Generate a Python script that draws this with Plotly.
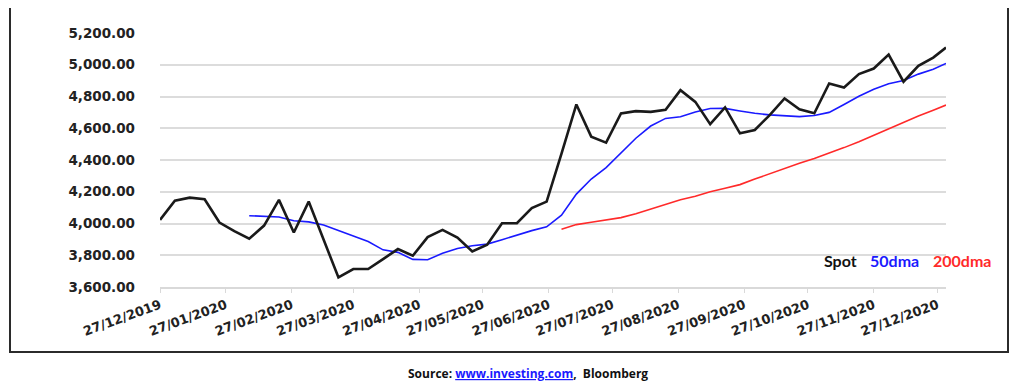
import pandas as pd
import plotly.graph_objects as go

# Weekly dates (Friday closes) plus the last trading day of 2020
dates = list(pd.date_range("2019-12-27", "2020-12-25", freq="7D").strftime("%Y-%m-%d")) + ["2020-12-31"]

spot = [4023, 4144, 4163, 4153, 4006, 3952, 3904, 3987, 4149, 3943,
        4138, 3900, 3660, 3713, 3713, 3776, 3839, 3797, 3914, 3960,
        3912, 3824, 3866, 4002, 4002, 4097, 4138, 4440, 4750, 4547,
        4509, 4693, 4708, 4703, 4716, 4840, 4766, 4626, 4731, 4568,
        4589, 4683, 4788, 4719, 4694, 4882, 4857, 4941, 4976, 5064,
        4893, 4993, 5045, 5108]

dma50 = [None] * 6 + [4049, 4046, 4041, 4017, 4010, 3990, 3955, 3925, 3886, 3834,
                      3818, 3774, 3772, 3812, 3843, 3860, 3870, 3898, 3927, 3955,
                      3979, 4052, 4185, 4280, 4352, 4443, 4537, 4614, 4662, 4672,
                      4703, 4724, 4725, 4709, 4694, 4684, 4678, 4673, 4680, 4700,
                      4750, 4802, 4846, 4880, 4901, 4941, 4971, 5008]

dma200 = [None] * 27 + [3964, 3993, 4008, 4021, 4037, 4062, 4090, 4120, 4150, 4172,
                        4200, 4222, 4245, 4280, 4314, 4345, 4380, 4410, 4443, 4478,
                        4515, 4556, 4596, 4635, 4677, 4714, 4746]

tick_dates = ["2019-12-27", "2020-01-27", "2020-02-27", "2020-03-27", "2020-04-27",
              "2020-05-27", "2020-06-27", "2020-07-27", "2020-08-27", "2020-09-27",
              "2020-10-27", "2020-11-27", "2020-12-27"]
tick_text = ["27/12/2019", "27/01/2020", "27/02/2020", "27/03/2020", "27/04/2020",
             "27/05/2020", "27/06/2020", "27/07/2020", "27/08/2020", "27/09/2020",
             "27/10/2020", "27/11/2020", "27/12/2020"]
y_ticks = [3600, 3800, 4000, 4200, 4400, 4600, 4800, 5000, 5200]

fig = go.Figure()
fig.add_trace(go.Scatter(x=dates, y=dma200, mode="lines", name="200dma",
                         line=dict(color="#ff2a2a", width=1.6)))
fig.add_trace(go.Scatter(x=dates, y=dma50, mode="lines", name="50dma",
                         line=dict(color="#1a1aff", width=1.6)))
fig.add_trace(go.Scatter(x=dates, y=spot, mode="lines", name="Spot",
                         line=dict(color="#1a1a1a", width=2.6)))

OFF = 8  # page body margin
W, H = 1024 - OFF, 383 - OFF
L = 160 - OFF
R = W - (946 - OFF)
T = 33 - OFF
B = H - (287 - OFF)
pw, ph = W - L - R, H - T - B

def px_x(x):
    return (x - OFF - L) / pw

def px_y(y):
    return (H - B - (y - OFF)) / ph

fig.add_shape(type="rect", xref="paper", yref="paper",
              x0=px_x(10), x1=px_x(1008), y0=px_y(352), y1=px_y(5),
              line=dict(color="#2b2b2b", width=2), fillcolor="rgba(0,0,0,0)")

legend_items = [("Spot", "#111111", 840), ("50dma", "#1a1aff", 894), ("200dma", "#ff2a2a", 962)]
for txt, col, cx in legend_items:
    fig.add_annotation(text=f"<b>{txt}</b>", x=px_x(cx), y=px_y(260), xref="paper", yref="paper",
                       showarrow=False, font=dict(family="Lato", size=16, color=col),
                       xanchor="center", yanchor="middle")

fig.add_annotation(
    text="<b>Source: <span style='color:#1a1aff'><u>www.investing.com</u></span>,&nbsp; Bloomberg</b>",
    x=px_x(528), y=px_y(373), xref="paper", yref="paper", showarrow=False,
    font=dict(family="Open Sans", size=12, color="#111111"), xanchor="center", yanchor="middle")

fig.update_layout(
    width=W, height=H,
    margin=dict(l=L, r=R, t=T, b=B),
    paper_bgcolor="white", plot_bgcolor="white",
    showlegend=False,
    xaxis=dict(type="date", range=["2019-12-27", "2020-12-31"],
               tickvals=tick_dates, ticktext=tick_text, tickangle=-20,
               showgrid=False, showline=True, linecolor="#d9d9d9", linewidth=1.5,
               ticks="outside", tickcolor="#d9d9d9", ticklen=4,
               tickfont=dict(family="DejaVu Sans", size=13, color="#222222", weight="bold"),
               zeroline=False),
    yaxis=dict(range=[3600, 5200], tickvals=y_ticks, tickformat=",.2f",
               showgrid=True, gridcolor="#dcdcdc", gridwidth=1.5,
               showline=False, zeroline=False, ticks="", ticklabelstandoff=24,
               tickfont=dict(family="DejaVu Sans", size=13.5, color="#222222", weight="bold")),
)

fig.write_html("out.html")
